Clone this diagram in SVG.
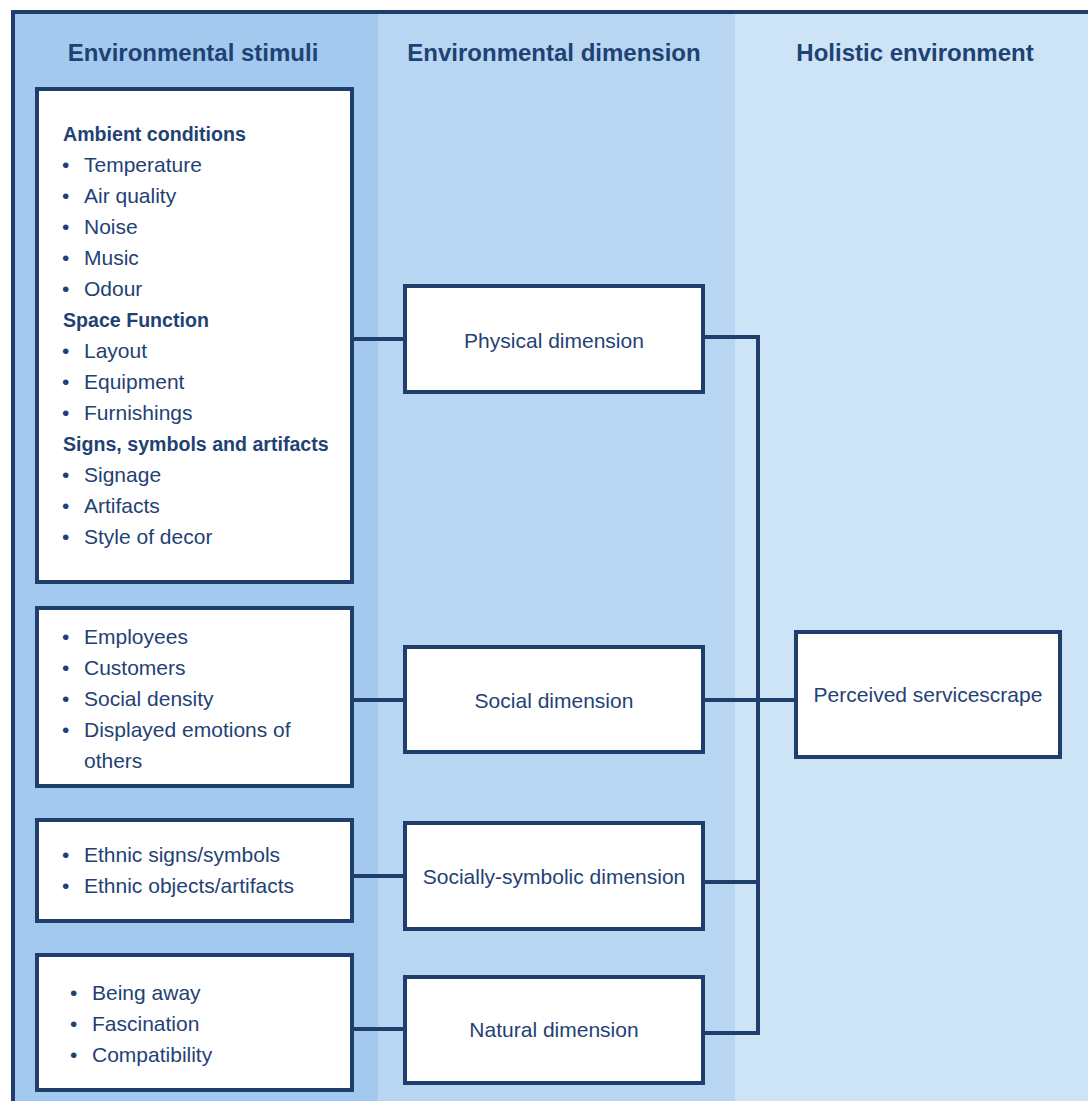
<svg xmlns="http://www.w3.org/2000/svg" width="1088" height="1101" viewBox="0 0 1088 1101">
<style>
.box{fill:#ffffff;stroke:#1f3e6c;stroke-width:4}
.t{font-family:"Liberation Sans",Arial,sans-serif;font-size:21px;fill:#1f4274}
.b{font-weight:bold;font-size:19.6px}
.h{font-family:"Liberation Sans",Arial,sans-serif;font-size:24px;font-weight:bold;fill:#1f4274;text-anchor:middle}
.c{text-anchor:middle;dominant-baseline:central}
.ln{stroke:#1f3e6c;stroke-width:4;fill:none}
</style>
<rect width="1088" height="1101" fill="#ffffff"/>
<rect x="13" y="12" width="365" height="1089" fill="#a4c9ef"/>
<rect x="378" y="12" width="357" height="1089" fill="#b8d6f1"/>
<rect x="735" y="12" width="353" height="1089" fill="#cde4f7"/>
<path class="ln" d="M13,1101 V12 H1088"/>
<g id="headers">
<text class="h" x="193" y="61">Environmental stimuli</text>
<text class="h" x="554" y="61">Environmental dimension</text>
<text class="h" x="915" y="61">Holistic environment</text>
</g>
<g id="connectors">
<path class="ln" d="M352,339 H405"/>
<path class="ln" d="M352,700 H405"/>
<path class="ln" d="M352,876 H405"/>
<path class="ln" d="M352,1029 H405"/>
<path class="ln" d="M703,337 H758 V1033 H703"/>
<path class="ln" d="M703,700 H796"/>
<path class="ln" d="M703,882 H758"/>
</g>
<g id="stimuli-physical">
<rect class="box" x="37" y="89" width="315" height="493"/>
<text class="t b" x="63" y="141">Ambient conditions</text>
<text class="t" y="172"><tspan x="62">•</tspan><tspan x="84">Temperature</tspan></text>
<text class="t" y="203"><tspan x="62">•</tspan><tspan x="84">Air quality</tspan></text>
<text class="t" y="234"><tspan x="62">•</tspan><tspan x="84">Noise</tspan></text>
<text class="t" y="265"><tspan x="62">•</tspan><tspan x="84">Music</tspan></text>
<text class="t" y="296"><tspan x="62">•</tspan><tspan x="84">Odour</tspan></text>
<text class="t b" x="63" y="327">Space Function</text>
<text class="t" y="358"><tspan x="62">•</tspan><tspan x="84">Layout</tspan></text>
<text class="t" y="389"><tspan x="62">•</tspan><tspan x="84">Equipment</tspan></text>
<text class="t" y="420"><tspan x="62">•</tspan><tspan x="84">Furnishings</tspan></text>
<text class="t b" x="63" y="451">Signs, symbols and artifacts</text>
<text class="t" y="482"><tspan x="62">•</tspan><tspan x="84">Signage</tspan></text>
<text class="t" y="513"><tspan x="62">•</tspan><tspan x="84">Artifacts</tspan></text>
<text class="t" y="544"><tspan x="62">•</tspan><tspan x="84">Style of decor</tspan></text>
</g>
<g id="stimuli-social">
<rect class="box" x="37" y="608" width="315" height="178"/>
<text class="t" y="644"><tspan x="62">•</tspan><tspan x="84">Employees</tspan></text>
<text class="t" y="675"><tspan x="62">•</tspan><tspan x="84">Customers</tspan></text>
<text class="t" y="706"><tspan x="62">•</tspan><tspan x="84">Social density</tspan></text>
<text class="t" y="737"><tspan x="62">•</tspan><tspan x="84">Displayed emotions of</tspan></text>
<text class="t" x="84" y="768">others</text>
</g>
<g id="stimuli-symbolic">
<rect class="box" x="37" y="820" width="315" height="101"/>
<text class="t" y="862"><tspan x="62">•</tspan><tspan x="84">Ethnic signs/symbols</tspan></text>
<text class="t" y="893"><tspan x="62">•</tspan><tspan x="84">Ethnic objects/artifacts</tspan></text>
</g>
<g id="stimuli-natural">
<rect class="box" x="37" y="955" width="315" height="135"/>
<text class="t" y="1000"><tspan x="70">•</tspan><tspan x="92">Being away</tspan></text>
<text class="t" y="1031"><tspan x="70">•</tspan><tspan x="92">Fascination</tspan></text>
<text class="t" y="1062"><tspan x="70">•</tspan><tspan x="92">Compatibility</tspan></text>
</g>
<g id="physical-dimension">
<rect class="box" x="405" y="286" width="298" height="106"/>
<text class="t c" x="554" y="340">Physical dimension</text>
</g>
<g id="social-dimension">
<rect class="box" x="405" y="647" width="298" height="105"/>
<text class="t c" x="554" y="700">Social dimension</text>
</g>
<g id="socially-symbolic-dimension">
<rect class="box" x="405" y="823" width="298" height="106"/>
<text class="t c" x="554" y="876">Socially-symbolic dimension</text>
</g>
<g id="natural-dimension">
<rect class="box" x="405" y="977" width="298" height="106"/>
<text class="t c" x="554" y="1029">Natural dimension</text>
</g>
<g id="perceived-servicescape">
<rect class="box" x="796" y="632" width="264" height="125"/>
<text class="t c" x="928" y="694">Perceived servicescrape</text>
</g>
</svg>
